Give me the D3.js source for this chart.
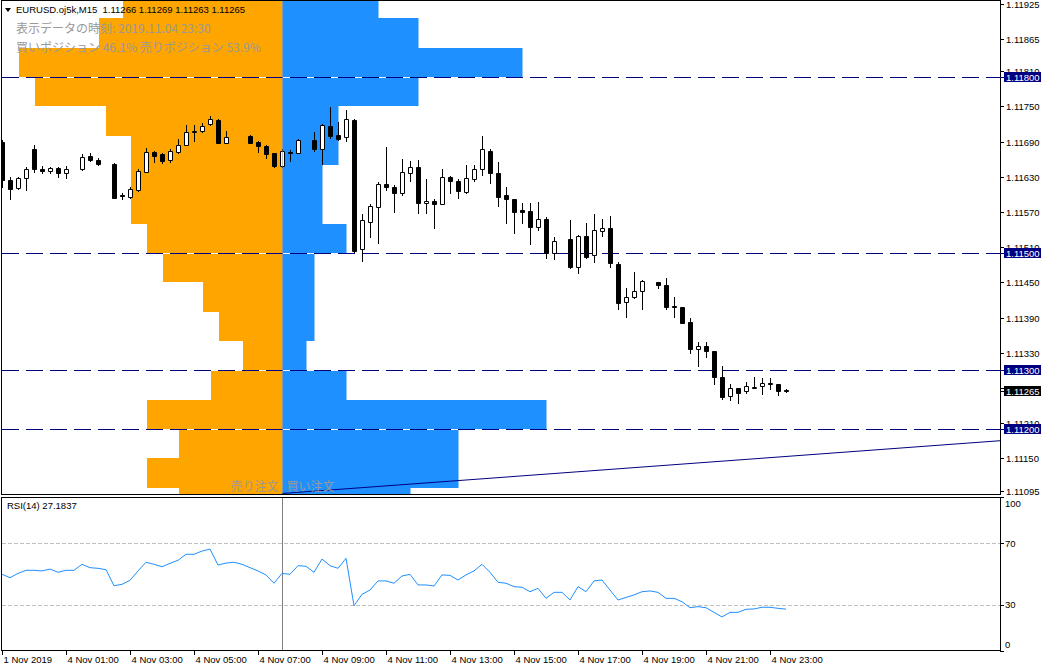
<!DOCTYPE html>
<html>
<head>
<meta charset="utf-8">
<script src="https://cdn.jsdelivr.net/npm/d3@7"></script>
<style>
  body { margin: 0; background: #fff; }
  svg { display: block; }
  text { font-family: "Liberation Sans", Arial, sans-serif; }
  .jp { font-family: "Noto Sans CJK JP", sans-serif; }
</style>
</head>
<body>
<script>
const width = 1042;
const height = 669;
const main = { top: 0, bottom: 494, left: 1, right: 1000 };
const sub = { top: 497, bottom: 651 };

// M15 bars, index 0 = first visible bar (null = no bar drawn)
const open = [1.11689,1.11624,1.11610,1.11628,1.11677,1.11643,1.11640,1.11645,1.11636,null,
  1.11643,1.11665,1.11659,null,1.11652,1.11599,1.11596,1.11607,1.11638,1.11672,
  1.11669,1.11659,1.11672,1.11684,1.11706,1.11708,1.11720,1.11727,1.11688,null,
  null,1.11699,1.11689,1.11682,1.11671,1.11648,1.11672,1.11671,null,1.11693,
  1.11677,1.11716,1.11701,1.11698,1.11727,1.11507,1.11553,1.11578,1.11618,1.11613,
  1.11602,1.11636,1.11647,1.11585,1.11589,1.11584,1.11630,1.11623,1.11604,1.11626,
  1.11643,1.11674,1.11636,1.11599,1.11592,1.11573,1.11572,1.11544,1.11558,1.11500,
  null,1.11524,1.11476,1.11529,1.11497,1.11538,1.11543,1.11481,1.11417,1.11425,
  1.11435,null,1.11451,1.11446,1.11410,1.11408,1.11383,1.11337,1.11342,1.11333,
  1.11289,1.11256,1.11270,1.11265,1.11270,1.11273,1.11279,1.11277,1.11266];
const high = [1.11693,1.11630,1.11629,1.11647,1.11684,1.11648,1.11647,1.11647,1.11648,null,
  1.11669,1.11671,1.11662,null,1.11653,1.11602,1.11613,1.11643,1.11679,1.11673,
  1.11671,1.11677,1.11694,1.11718,1.11718,1.11722,1.11734,1.11728,1.11708,null,
  null,1.11701,1.11691,1.11684,1.11671,1.11677,1.11676,1.11694,null,1.11706,
  1.11720,1.11749,1.11723,1.11744,1.11728,1.11567,1.11584,1.11621,1.11681,1.11616,
  1.11660,1.11657,1.11659,1.11626,1.11592,1.11643,1.11631,1.11626,1.11650,1.11650,
  1.11699,1.11677,1.11655,1.11613,1.11592,1.11585,1.11585,1.11587,1.11561,1.11527,
  null,1.11556,1.11531,1.11551,1.11567,1.11558,1.11563,1.11485,1.11440,1.11468,
  1.11454,null,1.11451,1.11458,1.11425,1.11408,1.11389,1.11348,1.11348,1.11333,
  1.11308,1.11277,1.11270,1.11280,1.11289,1.11287,1.11287,1.11277,1.11269];
const low = [1.11613,1.11592,1.11609,1.11607,1.11638,1.11636,1.11636,1.11630,1.11628,null,
  1.11642,1.11657,1.11650,null,1.11593,1.11592,1.11594,1.11606,1.11638,1.11655,
  1.11653,1.11655,1.11671,1.11684,1.11691,1.11707,1.11718,1.11687,1.11687,null,
  null,1.11687,1.11672,1.11662,1.11647,1.11647,1.11657,1.11670,null,1.11674,
  1.11652,1.11696,1.11693,1.11691,1.11502,1.11487,1.11527,1.11517,1.11607,1.11570,
  1.11599,1.11623,1.11568,1.11568,1.11543,1.11584,1.11602,1.11594,1.11602,1.11623,
  1.11633,1.11619,1.11580,1.11551,1.11534,1.11551,1.11515,1.11539,1.11492,1.11490,
  null,1.11475,1.11466,1.11492,1.11485,1.11529,1.11476,1.11405,1.11391,1.11424,
  1.11405,null,1.11440,1.11405,1.11391,1.11381,1.11330,1.11308,1.11323,1.11277,
  1.11251,1.11250,1.11244,1.11262,1.11270,1.11260,1.11268,1.11258,1.11263];
const close = [1.11624,1.11609,1.11628,1.11643,1.11643,1.11640,1.11645,1.11636,1.11643,null,
  1.11664,1.11659,1.11652,null,1.11594,1.11597,1.11609,1.11640,1.11672,1.11665,
  1.11657,1.11674,1.11684,1.11706,1.11708,1.11716,1.11728,1.11688,1.11698,null,
  null,1.11688,1.11682,1.11669,1.11648,1.11674,1.11671,1.11693,null,1.11677,
  1.11718,1.11699,1.11694,1.11728,1.11504,1.11556,1.11580,1.11618,1.11613,1.11602,
  1.11638,1.11647,1.11585,1.11589,1.11584,1.11630,1.11623,1.11606,1.11628,1.11643,
  1.11677,1.11636,1.11596,1.11592,1.11570,1.11570,1.11544,1.11558,1.11500,1.11521,
  null,1.11476,1.11529,1.11493,1.11539,1.11543,1.11483,1.11415,1.11425,1.11435,
  1.11452,null,1.11446,1.11408,1.11408,1.11381,1.11337,1.11342,1.11333,1.11289,
  1.11255,1.11270,1.11262,1.11273,1.11272,1.11279,1.11277,1.11265,1.11265];

const rsi = [49.8,47.6,50.4,52.4,52.4,52.0,53.2,51.1,52.4,52.4,
  56.3,54.1,53.7,52.8,42.4,43.3,45.9,52.0,57.6,56.3,
  54.7,56.9,58.9,62.8,62.8,64.9,66.2,55.8,57.1,57.6,
  56.3,54.1,52.0,49.4,44.0,50.4,49.8,55.4,55.0,51.1,
  59.7,55.4,53.7,60.2,29.4,36.8,39.6,45.5,45.5,44.0,
  48.7,49.8,42.9,42.9,42.2,49.4,49.1,46.1,49.4,52.0,
  56.3,51.1,44.6,44.0,41.8,41.4,38.5,40.7,34.2,38.1,
  38.1,33.1,41.8,38.5,45.5,46.1,39.6,33.1,34.8,36.4,
  38.5,39.0,38.1,34.2,34.2,32.0,28.1,28.8,28.1,25.1,
  22.1,25.1,25.1,27.1,27.3,28.4,28.4,27.7,27.1837];

const timeTickIdx = [0, 8, 16, 24, 32, 40, 48, 56, 64, 72, 80, 88, 96];
const timeLabels = ["1 Nov 2019", "4 Nov 01:00", "4 Nov 03:00", "4 Nov 05:00", "4 Nov 07:00",
  "4 Nov 09:00", "4 Nov 11:00", "4 Nov 13:00", "4 Nov 15:00", "4 Nov 17:00",
  "4 Nov 19:00", "4 Nov 21:00", "4 Nov 23:00"];
const priceTicks = [1.11925, 1.11865, 1.11810, 1.11750, 1.11690, 1.11630, 1.11570, 1.11510,
  1.11450, 1.11390, 1.11330, 1.11270, 1.11210, 1.11150, 1.11095];
const rsiTicks = [100, 70, 30, 0];
const rsiLevels = [70, 30];
const levelLines = [1.11800, 1.11500, 1.11300, 1.11200];
const lastPrice = 1.11265;

// order book profile: lower bound of each 5-pip row, sell / buy share
const bookLevels = [1.1190, 1.1185, 1.1180, 1.1175, 1.1170, 1.1165, 1.1160, 1.1155, 1.1150,
  1.1145, 1.1140, 1.1135, 1.1130, 1.1125, 1.1120, 1.1115, 1.1110, 1.1105];
const sellOrders = [4.0, 4.6, 6.6, 6.2, 4.4, 3.8, 3.8, 3.8, 3.4, 3.0, 2.0, 1.6, 1.0, 1.8, 3.4, 2.6, 3.4, 2.6];
const buyOrders = [2.4, 3.4, 6.0, 3.4, 1.4, 1.4, 1.0, 1.0, 1.6, 0.8, 0.8, 0.8, 0.6, 1.6, 6.6, 4.4, 4.4, 3.2];
const bookStep = 0.0005;
const profileIndex = 35;

const trendIdx = [35, 124.75];
const trendPrice = [1.11090, 1.11180];

const x = d3.scaleLinear().domain([-0.25, 124.75]).range([0, 1000]);
const y = d3.scaleLinear().domain([1.110892, 1.119312]).range([main.bottom, main.top]);
const yR = d3.scaleLinear().domain([0, 100]).range([sub.bottom, sub.top]);
const w = d3.scaleLinear().domain([0, 6.6]).range([0, 264]);

const svg = d3.select('body').append('svg')
  .attr('width', width)
  .attr('height', height);

svg.append('rect').attr('width', width).attr('height', height).attr('fill', '#fff');

const defs = svg.append('defs');
defs.append('clipPath').attr('id', 'clipMain')
  .append('rect').attr('x', 2).attr('y', 1).attr('width', 998).attr('height', 493);
defs.append('clipPath').attr('id', 'clipSub')
  .append('rect').attr('x', 2).attr('y', 498).attr('width', 998).attr('height', 153);

const plot = svg.append('g').attr('clip-path', 'url(#clipMain)');
const cx = Math.round(x(profileIndex)) + 0.5;

// order book histogram
const book = bookLevels.map((p, k) => ({ p, sell: sellOrders[k], buy: buyOrders[k] }));
plot.selectAll('rect.sell').data(book).join('rect')
  .attr('class', 'sell')
  .attr('x', d => Math.round(cx - w(d.sell)))
  .attr('y', d => Math.round(y(d.p + bookStep)))
  .attr('width', d => Math.round(cx - w(d.sell)) > 0 ? cx - Math.round(cx - w(d.sell)) : cx)
  .attr('height', d => Math.round(y(d.p)) - Math.round(y(d.p + bookStep)))
  .attr('fill', '#ffa500');
plot.selectAll('rect.buy').data(book).join('rect')
  .attr('class', 'buy')
  .attr('x', cx)
  .attr('y', d => Math.round(y(d.p + bookStep)))
  .attr('width', d => Math.round(w(d.buy)))
  .attr('height', d => Math.round(y(d.p)) - Math.round(y(d.p + bookStep)))
  .attr('fill', '#1e90ff');

// vertical marker
svg.append('line')
  .attr('x1', cx).attr('x2', cx)
  .attr('y1', main.top).attr('y2', main.bottom)
  .attr('stroke', '#8a8a8a').attr('stroke-width', 1).attr('opacity', 0.5);
svg.append('line')
  .attr('x1', cx).attr('x2', cx)
  .attr('y1', sub.top).attr('y2', sub.bottom)
  .attr('stroke', '#808080').attr('stroke-width', 1);

// horizontal level lines
levelLines.forEach(p => {
  const yy = Math.round(y(p)) + 0.5;
  plot.append('line').attr('x1', 2).attr('x2', 1000).attr('y1', yy).attr('y2', yy)
    .attr('stroke', '#fff');
  plot.append('line').attr('x1', 2).attr('x2', 1000).attr('y1', yy).attr('y2', yy)
    .attr('stroke', '#000080').attr('stroke-dasharray', '17,7');
});

// trend line
plot.append('line')
  .attr('x1', x(trendIdx[0])).attr('y1', y(trendPrice[0]))
  .attr('x2', x(trendIdx[1])).attr('y2', y(trendPrice[1]))
  .attr('stroke', '#000080').attr('stroke-width', 1);

// candles
const bars = open.map((o, i) => ({ i, o, h: high[i], l: low[i], c: close[i] }))
  .filter(d => d.o !== null);
const candle = plot.selectAll('g.candle').data(bars).join('g').attr('class', 'candle');
candle.append('line')
  .attr('x1', d => Math.round(x(d.i)) + 0.5)
  .attr('x2', d => Math.round(x(d.i)) + 0.5)
  .attr('y1', d => Math.round(y(d.h)))
  .attr('y2', d => Math.round(y(d.l)) + 1)
  .attr('stroke', '#000');
candle.append('path')
  .attr('d', d => {
    const x0 = Math.round(x(d.i)) - 1.5, x1 = x0 + 4;
    const y0 = Math.round(y(Math.max(d.o, d.c))) + 0.5;
    const y1 = Math.round(y(Math.min(d.o, d.c))) + 0.5;
    return `M${x0},${y0}H${x1}V${y1}H${x0}Z`;
  })
  .attr('fill', d => d.c >= d.o ? '#fff' : '#000')
  .attr('stroke', '#000');

// panel borders
svg.append('rect').attr('x', 1.5).attr('y', 0.5).attr('width', 999).attr('height', 494)
  .attr('fill', 'none').attr('stroke', '#000');
svg.append('rect').attr('x', 1.5).attr('y', 497.5).attr('width', 999).attr('height', 153)
  .attr('fill', 'none').attr('stroke', '#000');

// header texts
svg.append('path').attr('d', 'M5,8H11L8,12Z').attr('fill', '#000');
svg.append('text')
  .attr('x', 16).attr('y', 13)
  .attr('font-size', '9.5px').attr('fill', '#000')
  .attr('xml:space', 'preserve')
  .text(`EURUSD.oj5k,M15  ${open[98].toFixed(5)} ${high[98].toFixed(5)} ${low[98].toFixed(5)} ${close[98].toFixed(5)}`);
svg.append('text').attr('class', 'jp')
  .attr('x', 16).attr('y', 33)
  .attr('font-size', '12px').attr('fill', '#999')
  .text('表示データの時刻: 2019.11.04 23:30');
svg.append('text').attr('class', 'jp')
  .attr('x', 16).attr('y', 52)
  .attr('font-size', '12px').attr('fill', '#999')
  .text('買いポジション 46.1% 売りポジション 53.9%');
svg.append('text').attr('class', 'jp')
  .attr('x', cx - 4).attr('y', 491)
  .attr('text-anchor', 'end')
  .attr('font-size', '12px').attr('fill', '#999')
  .text('売り注文');
svg.append('text').attr('class', 'jp')
  .attr('x', cx + 4).attr('y', 491)
  .attr('font-size', '12px').attr('fill', '#999')
  .text('買い注文');

// price axis
const pAxis = svg.append('g');
priceTicks.forEach(p => {
  const yy = Math.round(y(p)) + 0.5;
  pAxis.append('line').attr('x1', 1000).attr('x2', 1004).attr('y1', yy).attr('y2', yy).attr('stroke', '#000');
  pAxis.append('text').attr('x', 1006).attr('y', yy + 3.5)
    .attr('font-size', '9.5px').attr('fill', '#000').text(p.toFixed(5));
});

function priceTag(p, fill) {
  const yy = Math.round(y(p));
  pAxis.append('line').attr('x1', 1000).attr('x2', 1004).attr('y1', yy + 0.5).attr('y2', yy + 0.5).attr('stroke', fill);
  pAxis.append('rect').attr('x', 1004).attr('y', yy - 5).attr('width', 37).attr('height', 10).attr('fill', fill);
  pAxis.append('text').attr('x', 1006).attr('y', yy + 3.5)
    .attr('font-size', '9.5px').attr('fill', '#fff').text(p.toFixed(5));
}
levelLines.forEach(p => priceTag(p, '#000080'));
priceTag(lastPrice, '#000');

// RSI panel
const subPlot = svg.append('g').attr('clip-path', 'url(#clipSub)');
rsiLevels.forEach(v => {
  subPlot.append('line').attr('x1', 2).attr('x2', 1000)
    .attr('y1', Math.round(yR(v)) + 0.5).attr('y2', Math.round(yR(v)) + 0.5)
    .attr('stroke', '#c0c0c0').attr('stroke-dasharray', '4,2');
});
subPlot.append('path')
  .datum(rsi)
  .attr('fill', 'none')
  .attr('stroke', '#1e90ff')
  .attr('stroke-width', 1)
  .attr('d', d3.line().x((d, i) => x(i)).y(d => yR(d)));

svg.append('text').attr('x', 7).attr('y', 509)
  .attr('font-size', '9.5px').attr('fill', '#000')
  .text(`RSI(14) ${rsi[rsi.length - 1].toFixed(4)}`);

rsiTicks.forEach(v => {
  let yy = yR(v);
  svg.append('line').attr('x1', 1000).attr('x2', 1004)
    .attr('y1', Math.round(yy) + 0.5).attr('y2', Math.round(yy) + 0.5).attr('stroke', '#000');
  if (v === 100) yy += 6;
  if (v === 0) yy -= 7;
  svg.append('text').attr('x', 1005).attr('y', yy + 3.5)
    .attr('font-size', '9.5px').attr('fill', '#000').text(v);
});

// time axis
timeTickIdx.forEach((t, k) => {
  const xx = Math.round(x(t)) + 0.5;
  svg.append('line').attr('x1', xx).attr('x2', xx).attr('y1', sub.bottom).attr('y2', sub.bottom + 4)
    .attr('stroke', '#000');
  svg.append('text').attr('x', xx + 1).attr('y', 663)
    .attr('font-size', '9.5px').attr('fill', '#000').text(timeLabels[k]);
});
</script>
</body>
